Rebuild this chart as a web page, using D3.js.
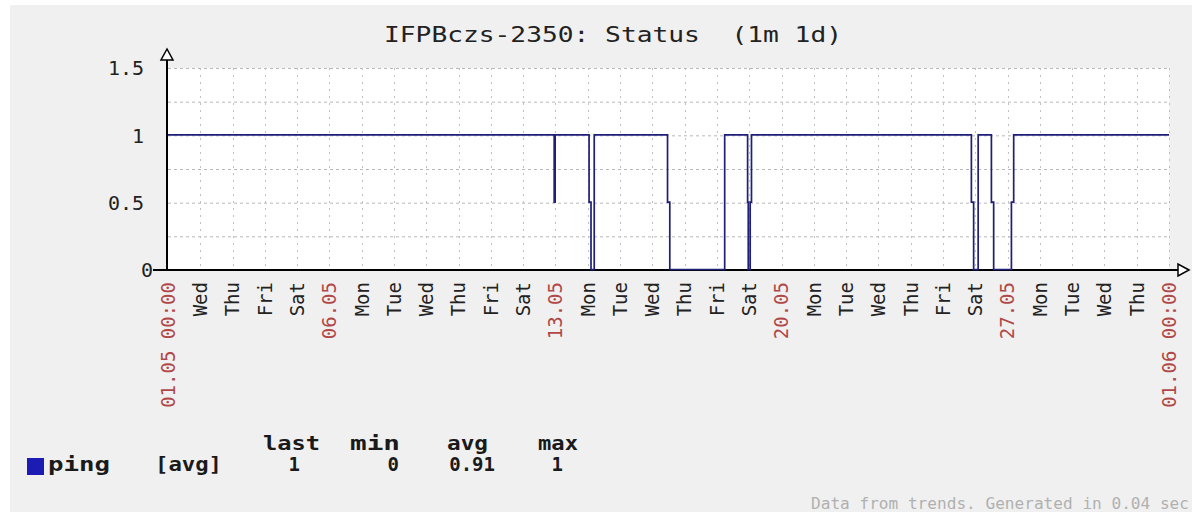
<!DOCTYPE html>
<html><head><meta charset="utf-8">
<script src="https://cdn.jsdelivr.net/npm/d3@7"></script>
<style>html,body{margin:0;padding:0;background:#fff;}svg{display:block;}</style>
</head><body>
<script>
// ---- data ----
const titleText = "IFPBczs-2350: Status  (1m 1d)";
const startDate = new Date(2012, 4, 1, 0, 0);   // 01.05 00:00
const endDate = new Date(2012, 5, 1, 0, 0);     // 01.06 00:00
// step series: offsets in days from start, and values
const stepDays   = [0, 11.96, 11.99, 13.04, 13.10, 13.20, 15.47, 15.54, 17.24, 17.95, 17.97, 18.03, 18.07, 24.88, 24.95, 25.09, 25.50, 25.57, 26.12, 26.19, 31];
const stepValues = [1, 0.5,   1,     0.5,   0,     1,     0.5,   0,     1,     0.5,   0,     0.5,   1,     0.5,   0,     1,     0.5,   0,     0.5,   1,     1];
const yTicks = [0, 0.5, 1, 1.5];
const yTickLabels = ["0", "0.5", "1", "1.5"];
const yGrid = [0, 0.25, 0.5, 0.75, 1, 1.25, 1.5];
const xTickLabels = ["01.05 00:00","Wed","Thu","Fri","Sat","06.05","Mon","Tue","Wed","Thu","Fri","Sat","13.05","Mon","Tue","Wed","Thu","Fri","Sat","20.05","Mon","Tue","Wed","Thu","Fri","Sat","27.05","Mon","Tue","Wed","Thu","01.06 00:00"];
const xTickIsDate = [1,0,0,0,0,1,0,0,0,0,0,0,1,0,0,0,0,0,0,1,0,0,0,0,0,0,1,0,0,0,0,1];
const legendHeaders = ["last", "min", "avg", "max"];
const legendSeries = "ping";
const legendFunc = "[avg]";
const legendValues = ["1", "0", "0.91", "1"];
const footerText = "Data from trends. Generated in 0.04 sec";

// ---- layout ----
const W = 1192, H = 512;
const svg = d3.select("body").append("svg").attr("width", W).attr("height", H);
const mono = "'DejaVu Sans Mono', 'Liberation Mono', monospace";

svg.append("rect").attr("x", 10).attr("y", 5).attr("width", W - 10).attr("height", H - 5).attr("fill", "#f0f0f0");

const x0 = 168, x1 = 1169, yTop = 68, yBot = 270;
const x = d3.scaleTime().domain([startDate, endDate]).range([x0, x1]);
const y = d3.scaleLinear().domain([0, 1.5]).range([yBot, yTop]);
const dayMs = 86400000;
const tickDates = xTickLabels.map((_, i) => new Date(startDate.getTime() + i * dayMs));

// plot area
svg.append("rect").attr("x", x0).attr("y", yTop).attr("width", x1 - x0).attr("height", yBot - yTop).attr("fill", "#fff");

// grid
svg.append("g").selectAll("line").data(yGrid).join("line")
  .attr("x1", x0).attr("x2", x1).attr("y1", d => y(d) + 0.5).attr("y2", d => y(d) + 0.5)
  .attr("stroke", "#b8b8b8").attr("stroke-width", 1).attr("stroke-dasharray", "3,3");
svg.append("g").selectAll("line").data(tickDates.slice(1)).join("line")
  .attr("x1", d => Math.round(x(d)) + 0.5).attr("x2", d => Math.round(x(d)) + 0.5)
  .attr("y1", yTop).attr("y2", yBot)
  .attr("stroke", "#c0c0c0").attr("stroke-width", 1).attr("stroke-dasharray", "2,5");

// axes
svg.append("line").attr("x1", 153).attr("x2", 1178).attr("y1", yBot).attr("y2", yBot).attr("stroke", "#000").attr("stroke-width", 2);
svg.append("line").attr("x1", x0 - 1).attr("x2", x0 - 1).attr("y1", yBot + 1).attr("y2", 60).attr("stroke", "#000").attr("stroke-width", 2);
svg.append("path").attr("d", `M${x0 - 1},49 L${x0 - 7},60 L${x0 + 5},60 Z`).attr("fill", "#fff").attr("stroke", "#000").attr("stroke-width", 1.5);
svg.append("path").attr("d", `M1189,${yBot} L1178,${yBot - 6} L1178,${yBot + 6} Z`).attr("fill", "#fff").attr("stroke", "#000").attr("stroke-width", 1.5);

// data line
const pts = stepDays.map((d, i) => ({t: new Date(startDate.getTime() + d * dayMs), v: stepValues[i]}));
const line = d3.line().x(d => x(d.t)).y(d => y(d.v) - 0.5).curve(d3.curveStepAfter);
svg.append("path").datum(pts).attr("d", line).attr("fill", "none")
  .attr("stroke", "#1f1f7a").attr("stroke-width", 1.7);

// y labels
svg.append("g").selectAll("text").data(yTicks).join("text")
  .attr("x", (d, i) => d === 0 ? 153 : 144).attr("y", d => y(d)).attr("dy", "0.36em")
  .attr("text-anchor", "end").attr("font-family", mono).attr("font-size", 20).attr("fill", "#222")
  .text((d, i) => yTickLabels[i]);

// x labels
svg.append("g").selectAll("text").data(tickDates).join("text")
  .attr("transform", d => `translate(${x(d)},282) rotate(-90)`)
  .attr("dy", "0.36em").attr("text-anchor", "end")
  .attr("font-family", mono).attr("font-size", 19)
  .attr("fill", (d, i) => xTickIsDate[i] ? "#b04848" : "#222")
  .text((d, i) => xTickLabels[i]);

// title
svg.append("text").attr("x", 384).attr("y", 42).attr("font-family", mono).attr("font-size", 22)
  .attr("fill", "#222").attr("textLength", 458).attr("lengthAdjust", "spacingAndGlyphs")
  .style("white-space", "pre").text(titleText);

// legend
const hdrX = [[263, 57], [350, 50], [447, 41], [538, 40]];
svg.append("g").selectAll("text").data(legendHeaders).join("text")
  .attr("x", (d, i) => hdrX[i][0]).attr("y", 450)
  .attr("textLength", (d, i) => hdrX[i][1]).attr("lengthAdjust", "spacingAndGlyphs")
  .attr("font-family", mono).attr("font-weight", "bold").attr("font-size", 19).attr("fill", "#1a1a1a")
  .text(d => d);
svg.append("rect").attr("x", 27).attr("y", 458).attr("width", 17).attr("height", 17).attr("fill", "#1c1cb4");
svg.append("text").attr("x", 48).attr("y", 471).attr("textLength", 62).attr("lengthAdjust", "spacingAndGlyphs")
  .attr("font-family", mono).attr("font-weight", "bold").attr("font-size", 19).attr("fill", "#1a1a1a").text(legendSeries);
svg.append("text").attr("x", 155).attr("y", 471).attr("textLength", 67).attr("lengthAdjust", "spacingAndGlyphs")
  .attr("font-family", mono).attr("font-weight", "bold").attr("font-size", 19).attr("fill", "#1a1a1a").text(legendFunc);
const valRight = [300, 399, 495, 563];
svg.append("g").selectAll("text").data(legendValues).join("text")
  .attr("x", (d, i) => valRight[i]).attr("y", 471).attr("text-anchor", "end")
  .attr("font-family", mono).attr("font-weight", "bold").attr("font-size", 19).attr("fill", "#1a1a1a")
  .text(d => d);

// footer
svg.append("text").attr("x", 811).attr("y", 509).attr("font-family", mono).attr("font-size", 15)
  .attr("textLength", 378).attr("lengthAdjust", "spacingAndGlyphs")
  .attr("fill", "#b0b0b0").style("white-space", "pre").text(footerText);
</script>
</body></html>
